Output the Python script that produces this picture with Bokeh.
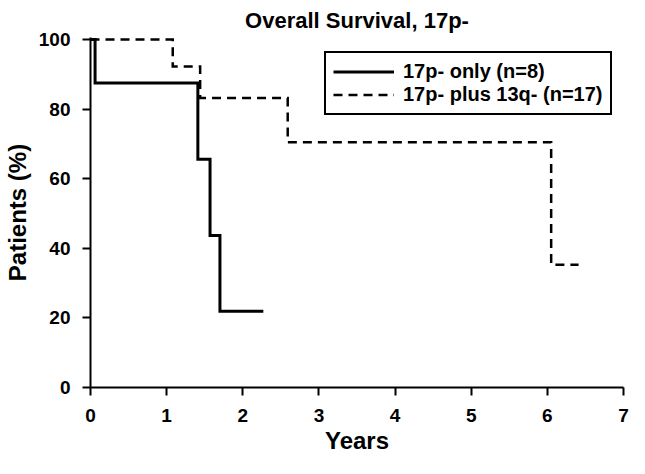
from bokeh.plotting import figure
from bokeh.models import Range1d, FixedTicker, Legend, LegendItem
from bokeh.embed import file_html
from bokeh.resources import INLINE

# Kaplan-Meier step data (years, % patients)
only17p_years = [0, 0.06, 1.41, 1.57, 1.70, 2.27]
only17p_surv = [100, 87.5, 65.6, 43.7, 21.9, 21.9]
plus13q_years = [0, 1.08, 1.44, 2.59, 6.05, 6.41]
plus13q_surv = [100, 92.3, 83.2, 70.5, 35.3, 35.3]

x_ticks = [0, 1, 2, 3, 4, 5, 6, 7]
y_ticks = [0, 20, 40, 60, 80, 100]

FONT = "Liberation Sans"

p = figure(width=629, height=458, output_backend="svg", toolbar_location=None,
           x_range=Range1d(0, 7), y_range=Range1d(0, 100.6),
           min_border_left=84, min_border_right=6, min_border_top=35, min_border_bottom=71,
           title="Overall Survival, 17p-")
p.outline_line_color = None
p.background_fill_color = "white"
p.border_fill_color = "white"
p.grid.visible = False

p.title.text_font = FONT
p.title.text_font_style = "bold"
p.title.text_font_size = "22px"
p.title.align = "center"
p.title.text_color = "black"

r1 = p.step(only17p_years, only17p_surv, mode="after", line_color="black",
            line_width=3, line_join="miter")
r2 = p.step(plus13q_years, plus13q_surv, mode="after", line_color="black",
            line_width=2.5, line_dash="9 6", line_join="miter")

for ax, ticks in ((p.xaxis[0], x_ticks), (p.yaxis[0], y_ticks)):
    ax.ticker = FixedTicker(ticks=ticks)
    ax.axis_line_width = 2
    ax.axis_line_color = "black"
    ax.major_tick_line_width = 2
    ax.major_tick_line_color = "black"
    ax.major_tick_out = 8
    ax.major_tick_in = 0
    ax.minor_tick_line_color = None
    ax.major_label_text_font = FONT
    ax.major_label_text_font_style = "bold"
    ax.major_label_text_font_size = "19px"
    ax.major_label_text_color = "black"
    ax.axis_label_text_font = FONT
    ax.axis_label_text_font_style = "bold"
    ax.axis_label_text_font_size = "24px"
    ax.axis_label_text_color = "black"

p.xaxis.major_label_standoff = 13
p.xaxis.axis_label = "Years"
p.xaxis.axis_label_standoff = 2
p.yaxis.major_label_standoff = 12
p.yaxis.axis_label = "Patients (%)"
p.yaxis.axis_label_standoff = 5

legend = Legend(items=[LegendItem(label="17p- only (n=8)", renderers=[r1]),
                       LegendItem(label="17p- plus 13q- (n=17)", renderers=[r2])],
                location=(234, 272))
legend.border_line_color = "black"
legend.border_line_width = 2
legend.border_line_alpha = 1
legend.background_fill_color = "white"
legend.background_fill_alpha = 1
legend.padding = 7
legend.spacing = 0
legend.margin = 0
legend.label_height = 23
legend.glyph_height = 23
legend.glyph_width = 61
legend.label_standoff = 9
legend.label_text_font = FONT
legend.label_text_font_style = "bold"
legend.label_text_font_size = "20px"
legend.label_text_color = "black"
p.add_layout(legend, "center")

open("out.html", "w").write(file_html(p, INLINE))
